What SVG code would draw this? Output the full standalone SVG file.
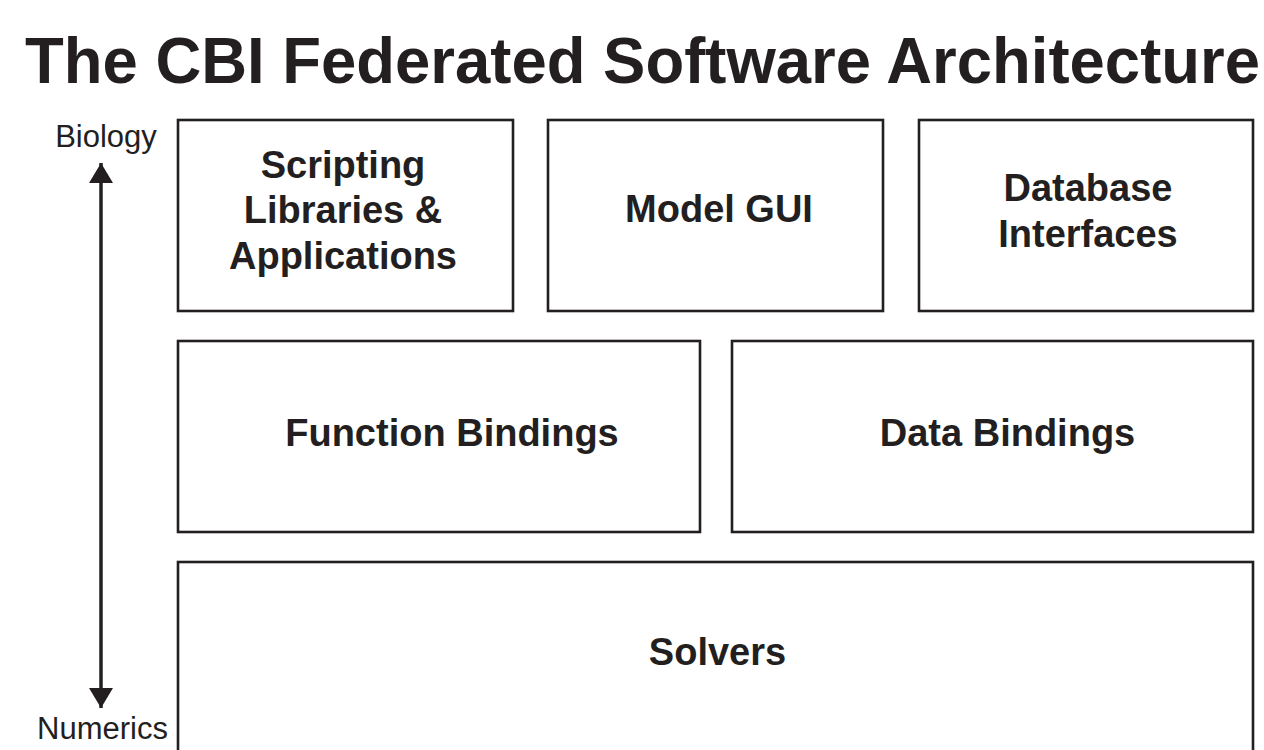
<svg xmlns="http://www.w3.org/2000/svg" width="1264" height="750" viewBox="0 0 1264 750">
<defs>
<style>
.box{fill:#fff;stroke:#231f20;stroke-width:2.6}
.lbl{font-family:"Liberation Sans",Arial,sans-serif;font-weight:bold;font-size:38px;fill:#231f20;text-anchor:middle}
.ax{font-family:"Liberation Sans",Arial,sans-serif;font-size:31px;fill:#231f20;text-anchor:middle}
.title{font-family:"Liberation Sans",Arial,sans-serif;font-weight:bold;font-size:64px;fill:#231f20}
</style>
<marker id="ah" viewBox="0 0 20 24" refX="20" refY="12" markerWidth="20" markerHeight="24" markerUnits="userSpaceOnUse" orient="auto">
<path d="M0,0 L20,12 L0,24 Z" fill="#231f20"/>
</marker>
</defs>
<rect width="1264" height="750" fill="#fff"/>
<text class="title" x="25" y="83" textLength="1235" lengthAdjust="spacingAndGlyphs">The CBI Federated Software Architecture</text>
<g id="connectors">
<line x1="101" y1="430" x2="101" y2="163" stroke="#231f20" stroke-width="3.5" marker-end="url(#ah)"/>
<line x1="101" y1="430" x2="101" y2="708" stroke="#231f20" stroke-width="3.5" marker-end="url(#ah)"/>
</g>
<g id="axis-labels">
<text class="ax" x="106" y="147">Biology</text>
<text class="ax" x="102.5" y="739">Numerics</text>
</g>
<g id="scripting">
<rect class="box" x="178" y="120" width="335" height="191"/>
<text class="lbl" x="343" y="178">Scripting</text>
<text class="lbl" x="343" y="223">Libraries &amp;</text>
<text class="lbl" x="343" y="269">Applications</text>
</g>
<g id="modelgui">
<rect class="box" x="548" y="120" width="335" height="191"/>
<text class="lbl" x="719" y="222">Model GUI</text>
</g>
<g id="database">
<rect class="box" x="919" y="120" width="334" height="191"/>
<text class="lbl" x="1088" y="201">Database</text>
<text class="lbl" x="1088" y="247">Interfaces</text>
</g>
<g id="function">
<rect class="box" x="178" y="341" width="522" height="191"/>
<text class="lbl" x="452" y="446">Function Bindings</text>
</g>
<g id="data">
<rect class="box" x="732" y="341" width="521" height="191"/>
<text class="lbl" x="1007.5" y="446">Data Bindings</text>
</g>
<g id="solvers">
<rect class="box" x="178" y="562" width="1075" height="200"/>
<text class="lbl" x="717.5" y="665">Solvers</text>
</g>
</svg>
